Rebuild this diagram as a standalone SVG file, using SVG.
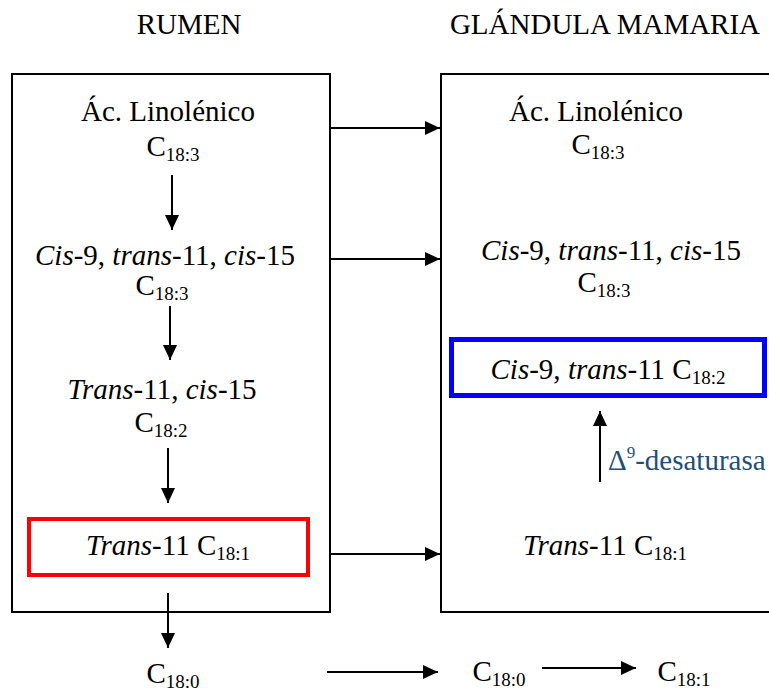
<svg xmlns="http://www.w3.org/2000/svg" width="769" height="693" viewBox="0 0 769 693">
  <defs>
    <marker id="head" viewBox="0 0 15 14" refX="15" refY="7" markerWidth="15" markerHeight="14" markerUnits="userSpaceOnUse" orient="auto">
      <path d="M0,0 L15,7 L0,14 Z" fill="#000"/>
    </marker>
    <style>
      text { font-family: "Liberation Serif", "Times New Roman", serif; font-size: 29px; fill: #000; }
      .mid { text-anchor: middle; }
      .it { font-style: italic; }
      .sub { font-size: 19px; }
      .box { fill: none; stroke: #000; stroke-width: 2; }
      .conn line { stroke: #000; stroke-width: 2; marker-end: url(#head); }
    </style>
  </defs>
  <rect width="769" height="693" fill="#fff"/>

  <!-- column headings -->
  <g id="titles">
    <text class="mid" x="189" y="34">RUMEN</text>
    <text class="mid" x="605" y="34">GLÁNDULA MAMARIA</text>
  </g>

  <!-- compartments -->
  <g id="rumen">
    <rect class="box" x="12" y="74" width="318" height="538"/>
  </g>
  <g id="mammary-gland">
    <rect class="box" x="441" y="74" width="340" height="538"/>
  </g>

  <!-- rumen biohydrogenation steps -->
  <g id="r-linolenic">
    <text class="mid" x="168" y="121">Ác. Linolénico</text>
    <text class="mid" x="173" y="156">C<tspan class="sub" dy="5">18:3</tspan></text>
  </g>
  <g id="r-c9t11c15">
    <text class="mid" x="165" y="265"><tspan class="it">Cis</tspan>-9, <tspan class="it">trans</tspan>-11, <tspan class="it">cis</tspan>-15</text>
    <text class="mid" x="162" y="295">C<tspan class="sub" dy="5">18:3</tspan></text>
  </g>
  <g id="r-t11c15">
    <text class="mid" x="162" y="399"><tspan class="it">Trans</tspan>-11, <tspan class="it">cis</tspan>-15</text>
    <text class="mid" x="161" y="432">C<tspan class="sub" dy="5">18:2</tspan></text>
  </g>
  <g id="r-t11">
    <rect x="29" y="519" width="279" height="56" fill="none" stroke="#f00" stroke-width="4"/>
    <text class="mid" x="168" y="555"><tspan class="it">Trans</tspan>-11 C<tspan class="sub" dy="5">18:1</tspan></text>
  </g>
  <g id="r-stearic">
    <text class="mid" x="173" y="683">C<tspan class="sub" dy="5">18:0</tspan></text>
  </g>

  <!-- mammary gland pool -->
  <g id="m-linolenic">
    <text class="mid" x="596" y="121">Ác. Linolénico</text>
    <text class="mid" x="598" y="154">C<tspan class="sub" dy="5">18:3</tspan></text>
  </g>
  <g id="m-c9t11c15">
    <text class="mid" x="611" y="260"><tspan class="it">Cis</tspan>-9, <tspan class="it">trans</tspan>-11, <tspan class="it">cis</tspan>-15</text>
    <text class="mid" x="604" y="292">C<tspan class="sub" dy="5">18:3</tspan></text>
  </g>
  <g id="m-c9t11">
    <rect x="451.5" y="339.5" width="313" height="56" fill="none" stroke="#00f" stroke-width="5"/>
    <text class="mid" x="608" y="379"><tspan class="it">Cis</tspan>-9, <tspan class="it">trans</tspan>-11 C<tspan class="sub" dy="5">18:2</tspan></text>
  </g>
  <g id="m-desaturase">
    <text x="608" y="470" style="fill:#1f4e79">Δ<tspan font-size="17" dy="-12">9</tspan><tspan dy="12">-desaturasa</tspan></text>
  </g>
  <g id="m-t11">
    <text class="mid" x="605" y="555"><tspan class="it">Trans</tspan>-11 C<tspan class="sub" dy="5">18:1</tspan></text>
  </g>
  <g id="m-stearic">
    <text class="mid" x="499" y="681">C<tspan class="sub" dy="5">18:0</tspan></text>
  </g>
  <g id="m-oleic">
    <text class="mid" x="684" y="681">C<tspan class="sub" dy="5">18:1</tspan></text>
  </g>

  <!-- connectors -->
  <g id="connectors" class="conn">
    <line x1="172" y1="175" x2="172" y2="230"/>
    <line x1="170" y1="306" x2="170" y2="360"/>
    <line x1="168" y1="448" x2="168" y2="503"/>
    <line x1="168" y1="593" x2="168" y2="648"/>
    <line x1="330" y1="128" x2="440" y2="128"/>
    <line x1="330" y1="259" x2="440" y2="259"/>
    <line x1="330" y1="554" x2="440" y2="554"/>
    <line x1="327" y1="672" x2="438" y2="672"/>
    <line x1="542" y1="668" x2="636" y2="668"/>
    <line x1="600" y1="482" x2="600" y2="411"/>
  </g>
</svg>
